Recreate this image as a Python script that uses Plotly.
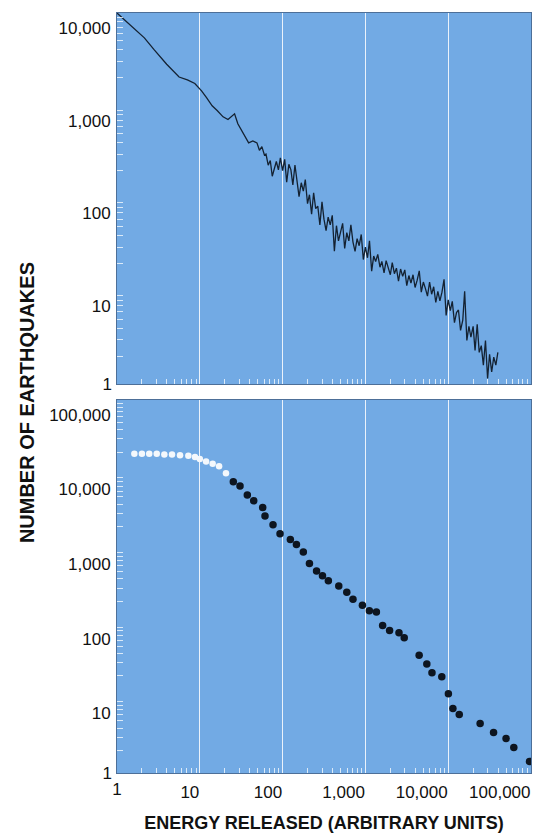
import plotly.graph_objects as go

# ---------------- data ----------------
# Top panel: number of earthquakes vs energy released (continuous trace)
energy_top = [1, 1.26, 1.58, 2.14, 2.82, 3.98, 5.62, 7.08, 8.71, 10.5, 12.0, 14.1, 16.2, 19.1,
              21.9, 24.0, 26.3, 28.8, 31.6, 35.5, 38.9, 43.7, 49.0, 52.5, 56.2, 60.3,
              63, 67, 71, 75, 79, 84, 89, 94,
              100, 106, 112, 119, 126, 133, 141, 150, 158, 168, 178, 188,
              200, 211, 224, 237, 251, 266, 282, 299, 316, 335, 355, 376,
              398, 422, 447, 473, 501, 531, 562, 596, 631, 668, 708, 750, 794, 841, 891, 944,
              1000, 1060, 1120, 1190, 1260, 1330, 1410, 1500, 1580, 1680, 1780, 1880,
              2000, 2110, 2240, 2370, 2510, 2660, 2820, 2990, 3160, 3350, 3550, 3760,
              3980, 4220, 4470, 4730, 5010, 5310, 5620, 5960, 6310, 6680, 7080, 7500, 7940, 8410, 8910, 9440,
              10000, 10600, 11200, 11900, 12600, 13300, 14100, 15000, 15800, 16800, 17800, 18800,
              20000, 21100, 22400, 23700, 25100, 26600, 28200, 29900, 31600, 33500, 35500, 37600,
              39800]
count_top = [10000, 8300, 6900, 5400, 4000, 2800, 2040, 1900, 1740, 1450, 1230, 1000, 890, 760,
             710, 760, 820, 640, 550, 457, 398, 417, 398, 331, 363, 295,
             302, 229, 257, 174, 209, 251, 204, 275, 200, 265,
             150, 234, 204, 140, 230, 145, 105, 148, 120, 160,
             88, 110, 68, 115, 78, 83, 52, 92, 60, 45,
             63, 52, 66, 27, 51, 35, 45, 54, 29, 43,
             35, 52, 34, 27, 37, 31, 41, 22, 30, 23,
             35, 16.5, 24, 21, 25, 18.2, 21, 15.8, 21.4, 18.6,
             15.1, 20.4, 15.5, 17.8, 12.9, 17.4, 14.5, 17.0, 11.5, 14.8,
             12.3, 15.1, 11.0, 13.2, 16.6, 9.8, 12.6, 10.7, 8.9, 12.6,
             9.3, 11.2, 7.6, 10.0, 7.9, 9.8, 13.5, 5.5, 8.1, 6.2,
             7.8, 4.6, 5.9, 6.3, 3.8, 4.9, 10.0, 2.95, 4.2, 3.2,
             4.2, 2.3, 4.4, 2.2, 2.6, 1.6, 2.95, 1.15, 2.1, 1.35,
             1.95, 1.6, 2.2]

# Bottom panel: white = early flat part, black = power-law part
energy_white = [1.62, 2.0, 2.45, 3.02, 3.73, 4.62, 5.77, 7.27, 8.75, 10.0, 11.9, 14.3, 17.1, 20.7]
count_white = [19000, 19000, 19000, 19000, 18600, 18600, 18200, 17900, 17200, 16100, 14900,
               14000, 12900, 10400]
energy_black = [25.4, 30.6, 37.5, 44.8, 57.5, 61.3, 76.6, 93.1,
                124, 147, 178, 211, 257, 303, 357, 477, 596, 708,
                920, 1117, 1358, 1614, 1960, 2545, 2943, 4457, 5520, 6370,
                8370, 10050, 11400, 13600, 24300, 35300, 50000, 62000, 96000]
count_black = [8000, 7020, 5330, 4440, 3610, 2780, 2130, 1610,
               1350, 1150, 916, 643, 508, 440, 378, 321, 265, 213,
               177, 150, 144, 95, 81, 76, 65, 38, 29, 22,
               19.5, 11.5, 7.3, 6.1, 4.6, 3.5, 2.9, 2.2, 1.43]

x_tick_vals = [10, 100, 1000, 10000, 100000]
x_tick_text = ["10", "100", "1,000", "10,000", "100,000"]
top_y_tick_vals = [10, 100, 1000, 10000]
top_y_tick_text = ["10", "100", "1,000", "10,000"]
bottom_y_tick_vals = [10, 100, 1000, 10000, 100000]
bottom_y_tick_text = ["10", "100", "1,000", "10,000", "100,000"]
one_tick_val = [1]
one_tick_text = ["1"]

x_title = "ENERGY RELEASED (ARBITRARY UNITS)"
y_title = "NUMBER OF EARTHQUAKES"

# ---------------- style ----------------
BG = "#72aae4"
BORDER = "#4d6f98"
GRID = "rgba(255,255,255,0.85)"
MINOR = "rgba(255,255,255,0.75)"
FONT = "Liberation Sans, Arial, Helvetica, sans-serif"
TICKFONT = dict(family=FONT, size=17, color="#111111")

minor_ticks = [m * 10 ** k for k in range(6) for m in range(2, 10)]

fig = go.Figure()
fig.add_trace(go.Scatter(x=energy_top, y=count_top, mode="lines",
                         line=dict(color="#142232", width=1.3),
                         xaxis="x", yaxis="y", showlegend=False, hoverinfo="skip"))
fig.add_trace(go.Scatter(x=energy_white, y=count_white, mode="markers",
                         marker=dict(color="#f4f8fc", size=6.5, line=dict(width=0)),
                         xaxis="x2", yaxis="y2", showlegend=False))
fig.add_trace(go.Scatter(x=energy_black, y=count_black, mode="markers",
                         marker=dict(color="#0d1520", size=7.5, line=dict(width=0)),
                         xaxis="x2", yaxis="y2", showlegend=False))
# empty traces so that the overlay axes carrying the "1" labels are drawn
fig.add_trace(go.Scatter(x=[], y=[], xaxis="x", yaxis="y3", showlegend=False))
fig.add_trace(go.Scatter(x=[], y=[], xaxis="x2", yaxis="y4", showlegend=False))
fig.add_trace(go.Scatter(x=[], y=[], xaxis="x3", yaxis="y2", showlegend=False))

common_x = dict(type="log", range=[0, 5], showgrid=True, gridcolor=GRID, gridwidth=1.3,
                ticks="", showline=True, mirror=True, linecolor=BORDER, linewidth=1,
                zeroline=False, tickvals=x_tick_vals, ticktext=x_tick_text,
                tickfont=TICKFONT, fixedrange=True,
                minor=dict(tickvals=minor_ticks, ticks="inside", ticklen=5,
                           tickcolor=MINOR, tickwidth=1, showgrid=False))
common_y = dict(type="log", showgrid=False, ticks="", showline=True, mirror=True,
                linecolor=BORDER, linewidth=1, zeroline=False, tickfont=TICKFONT,
                ticklabelposition="outside bottom", ticklabelshift=3, ticklabelstandoff=2,
                fixedrange=True,
                minor=dict(tickvals=minor_ticks, ticks="inside", ticklen=6,
                           tickcolor=MINOR, tickwidth=1, showgrid=False))
one_y = dict(type="log", showgrid=False, ticks="", showline=False, zeroline=False,
             tickvals=one_tick_val, ticktext=one_tick_text, tickfont=TICKFONT, side="left",
             ticklabelstandoff=4, fixedrange=True)

TOP_DOM = [0.5117, 1.0]
BOT_DOM = [0.0, 0.4909]

fig.update_layout(
    width=538, height=825,
    margin=dict(l=109, r=15, t=4, b=53),
    paper_bgcolor="white", plot_bgcolor=BG,
    showlegend=False,
    xaxis=dict(common_x, domain=[0, 1], anchor="y", showticklabels=False),
    yaxis=dict(common_y, domain=TOP_DOM, anchor="x", range=[0, 4],
               tickvals=top_y_tick_vals, ticktext=top_y_tick_text),
    yaxis3=dict(one_y, overlaying="y", anchor="x", range=[0, 4]),
    xaxis2=dict(common_x, domain=[0, 1], anchor="y2", ticklabelposition="outside left",
                ticklabelstandoff=4,
                title=dict(text=x_title, standoff=14,
                           font=dict(family=FONT, size=18, color="#111111", weight="bold"))),
    yaxis2=dict(common_y, domain=BOT_DOM, anchor="x2", range=[0, 5],
                tickvals=bottom_y_tick_vals, ticktext=bottom_y_tick_text),
    yaxis4=dict(one_y, overlaying="y2", anchor="x2", range=[0, 5]),
    xaxis3=dict(type="log", range=[0, 5], overlaying="x2", anchor="y2", showgrid=False,
                ticks="", showline=False, zeroline=False, tickvals=one_tick_val,
                ticktext=one_tick_text, tickfont=TICKFONT, side="bottom",
                ticklabelstandoff=4, fixedrange=True),
    annotations=[dict(text=y_title, textangle=-90, xref="paper", yref="paper",
                      x=-0.2174, y=0.488, xanchor="center", yanchor="middle",
                      showarrow=False,
                      font=dict(family=FONT, size=20, color="#111111", weight="bold"))],
)

fig.write_html("out.html")
